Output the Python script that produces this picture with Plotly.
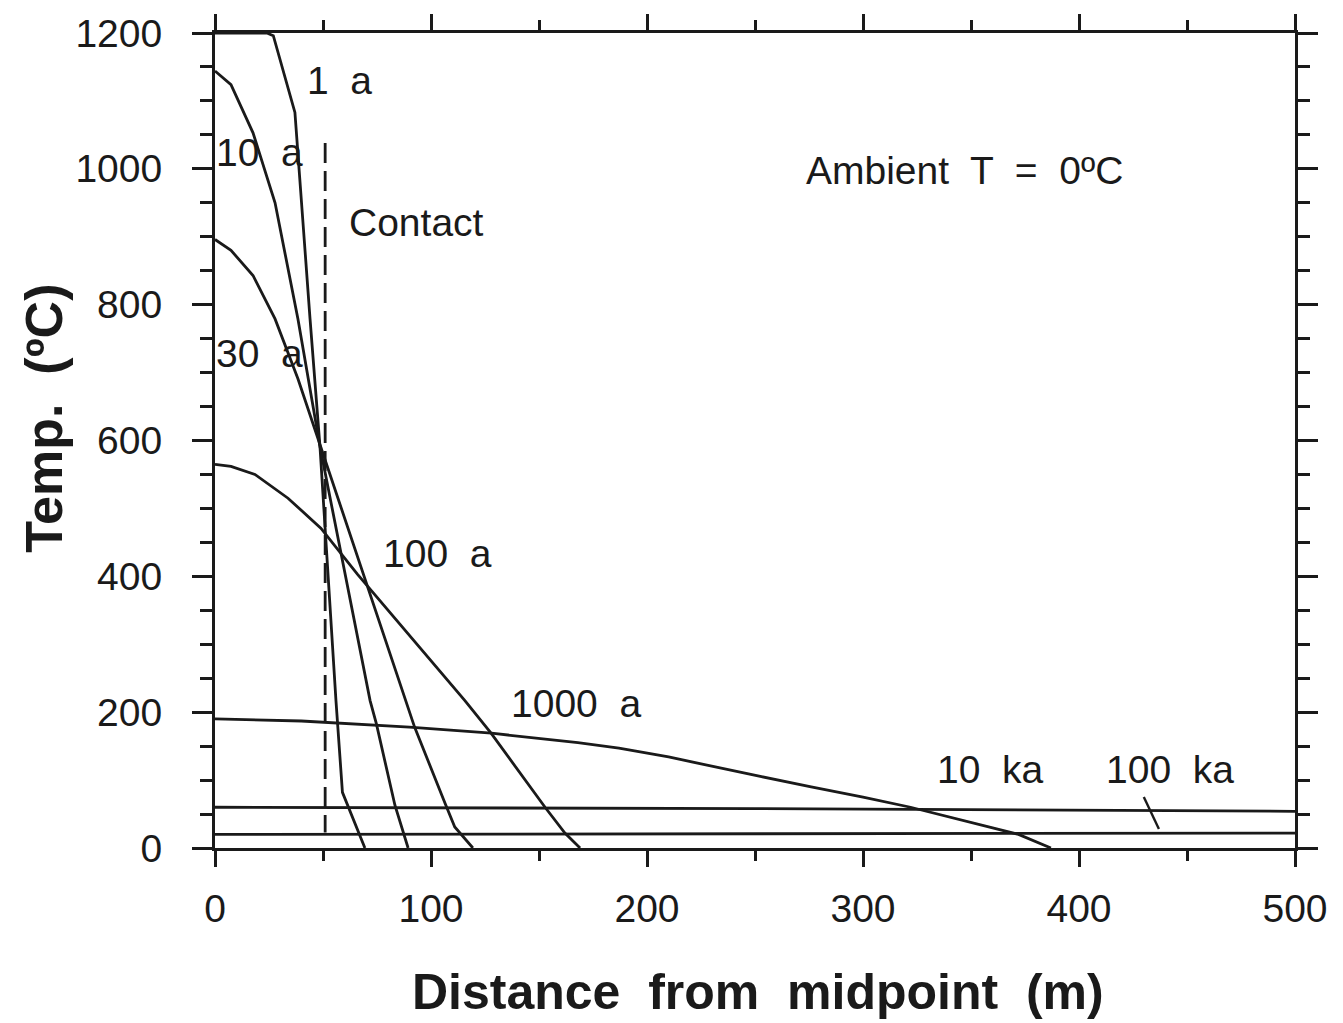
import plotly.graph_objects as go

# ---- data ----
x_1a = [0, 24, 27, 37, 44, 48.6, 56, 59, 69.4]
T_1a = [1200, 1200, 1196, 1083, 779, 591, 217, 82, 0]

x_10a = [0, 7.4, 17.6, 27.8, 38.4, 48.6, 71.8, 74.7, 83.3, 89.4]
T_10a = [1144, 1124, 1053, 950, 779, 591, 217, 183, 63, 0]

x_30a = [0, 7.4, 17.6, 27.8, 38.4, 48.6, 88, 92.4, 106.5, 111, 119.4]
T_30a = [896, 880, 843, 779, 691, 594, 217, 178, 66, 31, 0]

x_100a = [0, 7.4, 18.5, 33.8, 49, 66, 115.7, 127.8, 152.8, 162, 169]
T_100a = [565, 562, 550, 515, 471, 403, 217, 169, 60, 22, 0]

x_1000a = [0, 40, 90, 128, 168, 187, 210, 230, 253, 276, 300, 322, 342, 361, 372, 387]
T_1000a = [190, 187, 178, 169, 155, 147, 134, 120, 105, 90, 75, 60, 44, 28, 20, 0]

x_10ka = [0, 250, 500]
T_10ka = [60, 58, 54]

x_100ka = [0, 250, 500]
T_100ka = [20, 21, 22]

contact_x = [51, 51]
contact_T = [1038, 23]

pointer_x = [430, 437]
pointer_T = [75, 28]

x_ticks = [0, 100, 200, 300, 400, 500]
y_ticks = [0, 200, 400, 600, 800, 1000, 1200]

labels = ["1  a", "10  a", "Contact", "30  a", "100  a", "1000  a", "10  ka", "100  ka",
          "Ambient  T  =  0ºC"]
label_x = [57.5, 20.5, 93.5, 20.5, 103, 167, 359, 442, 347]
label_T = [1130, 1024, 921, 728, 434, 213, 116, 116, 998]

# ---- figure ----
INK = "#1a1a1a"
FONT = "Liberation Sans, Arial, sans-serif"

fig = go.Figure()
curve_style = dict(color=INK, width=2.8)
for xs, ts in [(x_1a, T_1a), (x_10a, T_10a), (x_30a, T_30a), (x_100a, T_100a),
               (x_1000a, T_1000a), (x_10ka, T_10ka), (x_100ka, T_100ka)]:
    fig.add_trace(go.Scatter(x=xs, y=ts, mode="lines", line=curve_style,
                             hoverinfo="skip", showlegend=False))

fig.add_trace(go.Scatter(x=contact_x, y=contact_T, mode="lines",
                         line=dict(color=INK, width=2.8, dash="20px,8px"),
                         hoverinfo="skip", showlegend=False))
fig.add_trace(go.Scatter(x=pointer_x, y=pointer_T, mode="lines",
                         line=dict(color=INK, width=2.4),
                         hoverinfo="skip", showlegend=False))

for txt, lx, ly in zip(labels, label_x, label_T):
    fig.add_annotation(x=lx, y=ly, text=txt, showarrow=False,
                       font=dict(family=FONT, size=39, color=INK),
                       xanchor="center", yanchor="middle")

# axis titles
fig.add_annotation(xref="paper", yref="paper", x=0.503, y=-0.177,
                   text="<b>Distance  from  midpoint  (m)</b>", showarrow=False,
                   font=dict(family=FONT, size=50, color=INK),
                   xanchor="center", yanchor="middle")
fig.add_annotation(xref="paper", yref="paper", x=-0.158, y=0.527,
                   text="<b>Temp.  (ºC)</b>", showarrow=False, textangle=-90,
                   font=dict(family=FONT, size=52, color=INK),
                   xanchor="center", yanchor="middle")

axis_common = dict(showgrid=False, zeroline=False, showline=True, linecolor=INK,
                   linewidth=3, mirror="ticks", ticks="outside", tickcolor=INK,
                   tickwidth=2.5, tickfont=dict(family=FONT, size=39, color=INK))

fig.update_xaxes(range=[0, 500], tickvals=x_ticks, ticklen=16,
                 minor=dict(dtick=50, ticklen=10, tickwidth=2.5, tickcolor=INK, ticks="outside"),
                 ticklabelstandoff=8, **axis_common)
fig.update_yaxes(range=[0, 1200], tickvals=y_ticks, ticklen=20,
                 minor=dict(dtick=50, ticklen=12, tickwidth=2.5, tickcolor=INK, ticks="outside"),
                 ticklabelstandoff=22, **axis_common)

fig.update_layout(width=1343, height=1023,
                  margin=dict(l=215, r=48, t=28, b=175),
                  paper_bgcolor="white", plot_bgcolor="white",
                  showlegend=False)

fig.write_html("out.html")
